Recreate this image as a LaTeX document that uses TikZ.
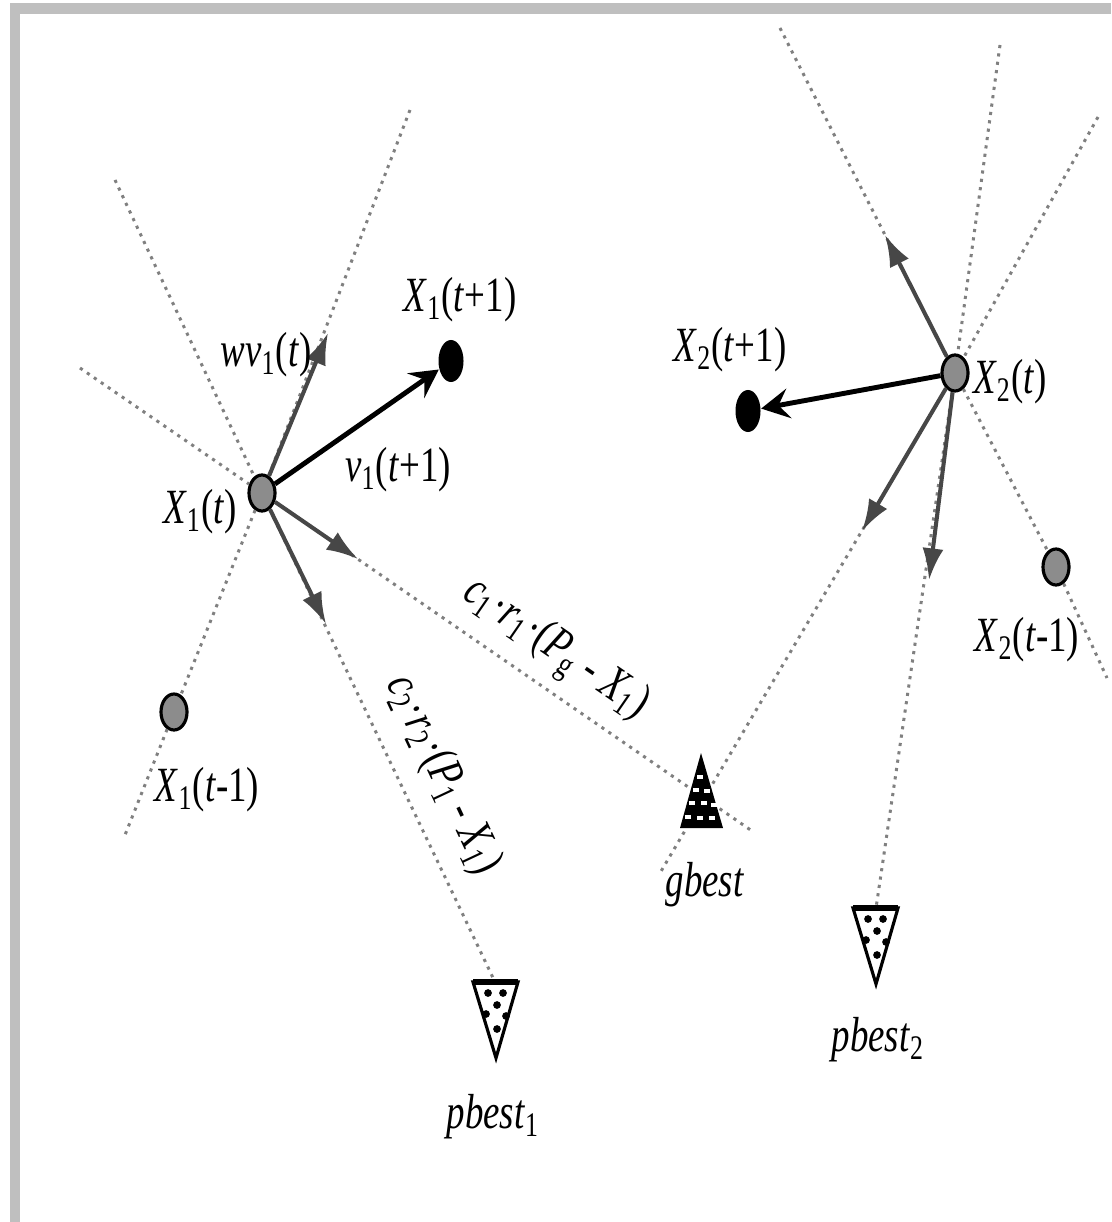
\documentclass[tikz,border=0pt]{standalone}
\usepackage{fontspec}
\setmainfont{Liberation Serif}
\usepackage{graphicx}
\usetikzlibrary{arrows.meta,shapes.geometric}
\newcommand{\lbl}[1]{\scalebox{0.75}[1]{\fontsize{14}{16}\selectfont #1}}
\newcommand{\pos}[2]{\textit{X}\textsubscript{#1}(\textit{t}#2)}

\begin{document}
\begin{tikzpicture}[x=0.01cm,y=-0.01cm,
  dotline/.style={black!50,line width=0.85pt,dash pattern=on 0.9pt off 1.5pt},
  grayarr/.style={draw=black!72,line width=1.15pt,-{Latex[length=9pt,width=6pt]}},
  blackarr/.style={black,line width=1.4pt,-{Stealth[length=8pt,width=8.5pt,inset=3pt]}},
  curpos/.style={ellipse,draw,line width=0.9pt,fill=black!45,minimum width=0.26cm,minimum height=0.36cm,inner sep=0pt},
  oldpos/.style={curpos},
  newpos/.style={ellipse,fill=black,minimum width=0.25cm,minimum height=0.42cm,inner sep=0pt}]
\useasboundingbox (0,0) rectangle (1111,1222);
\fill[black!25] (10,3) rectangle (1111,14);
\fill[black!25] (10,3) rectangle (20,1222);

% particles
\node[curpos] (x1t) at (262,493) {};
\node[newpos] (x1n) at (451,361) {};
\node[oldpos] (x1o) at (174,712) {};
\node[curpos] (x2t) at (955,373) {};
\node[newpos] (x2n) at (748,411) {};
\node[oldpos] (x2o) at (1056,567) {};

% line ends and arrow tips
\coordinate (a1) at (115,180);
\coordinate (pb1) at (495,982);
\coordinate (b1) at (80,368);
\coordinate (b2) at (752,831);
\coordinate (c1) at (410,110);
\coordinate (c2) at (125,835);
\coordinate (d1) at (780,28);
\coordinate (d2) at (1107,678);
\coordinate (e1) at (1000,45);
\coordinate (pb2) at (876,908);
\coordinate (f1) at (1098,117);
\coordinate (f2) at (660,873);
\coordinate (w1) at (328,333);
\coordinate (g1) at (358,559);
\coordinate (p1) at (326,624);
\coordinate (w2) at (885,235);
\coordinate (g2) at (862,531);
\coordinate (p2) at (929,580);

\draw[dotline] (a1) -- (x1t) -- (pb1);
\draw[dotline] (b1) -- (x1t) -- (b2);
\draw[dotline] (c1) -- (x1t) -- (x1o) -- (c2);
\draw[dotline] (d1) -- (x2t) -- (x2o) -- (d2);
\draw[dotline] (e1) -- (x2t) -- (pb2);
\draw[dotline] (f1) -- (x2t) -- (f2);

% gbest
\fill (701,753) -- (723,828) -- (680,828) -- cycle;
\foreach \px/\py in {700/777,696/790,707/791,692/803,704/803,714/805,688/817,700/818,712/818}
  \fill[white] (\px-3,\py-2) rectangle (\px+3,\py+2);

% pbest triangles
\foreach \ox/\oy in {473/982,853/908}{
  \draw[line width=0.9pt,fill=white] (\ox,\oy) -- (\ox+45,\oy) -- (\ox+23,\oy+76) -- cycle;
  \draw[line width=1.8pt] (\ox,\oy) -- (\ox+45,\oy);
  \foreach \dx/\dy in {15/11,30/11,24/23,13/32,33/34,24/47}
    \fill (\ox+\dx,\oy+\dy) circle (1.1pt);
}

\draw[grayarr] (x1t) -- (w1);
\draw[grayarr] (x1t) -- (g1);
\draw[grayarr] (x1t) -- (p1);
\draw[blackarr] (x1t) -- (x1n);
\draw[grayarr] (x2t) -- (w2);
\draw[grayarr] (x2t) -- (g2);
\draw[grayarr] (x2t) -- (p2);
\draw[blackarr] (x2t) -- (x2n);

% labels
\node (lx1n) at (460,300) {\lbl{\pos{1}{+1}}};
\node (lwv) at (266,355) {\lbl{\textit{wv}\textsubscript{1}(\textit{t})}};
\node (lv) at (398,470) {\lbl{\textit{v}\textsubscript{1}(\textit{t}+1)}};
\node (lx1t) at (200,512) {\lbl{\pos{1}{}}};
\node (lx1o) at (207,790) {\lbl{\pos{1}{-1}}};
\node (lx2n) at (730,350) {\lbl{\pos{2}{+1}}};
\node (lx2t) at (1010,382) {\lbl{\pos{2}{}}};
\node (lx2o) at (1027,640) {\lbl{\pos{2}{-1}}};
\node (lgb) at (705,885) {\lbl{\textit{gbest}}};
\node (lpb1) at (493,1117) {\lbl{\textit{pbest}\textsubscript{1}}};
\node (lpb2) at (878,1040) {\lbl{\textit{pbest}\textsubscript{2}}};
\node[rotate=-34.6] (lc1) at (555,650) {\lbl{\textit{c}\textsubscript{1}·\textit{r}\textsubscript{1}·(\textit{P}\textsubscript{g} - \textit{X}\textsubscript{1})}};
\node[rotate=-64.8] (lc2) at (443,775) {\lbl{\textit{c}\textsubscript{2}·\textit{r}\textsubscript{2}·(\textit{P}\textsubscript{1} - \textit{X}\textsubscript{1})}};
\end{tikzpicture}
\end{document}
